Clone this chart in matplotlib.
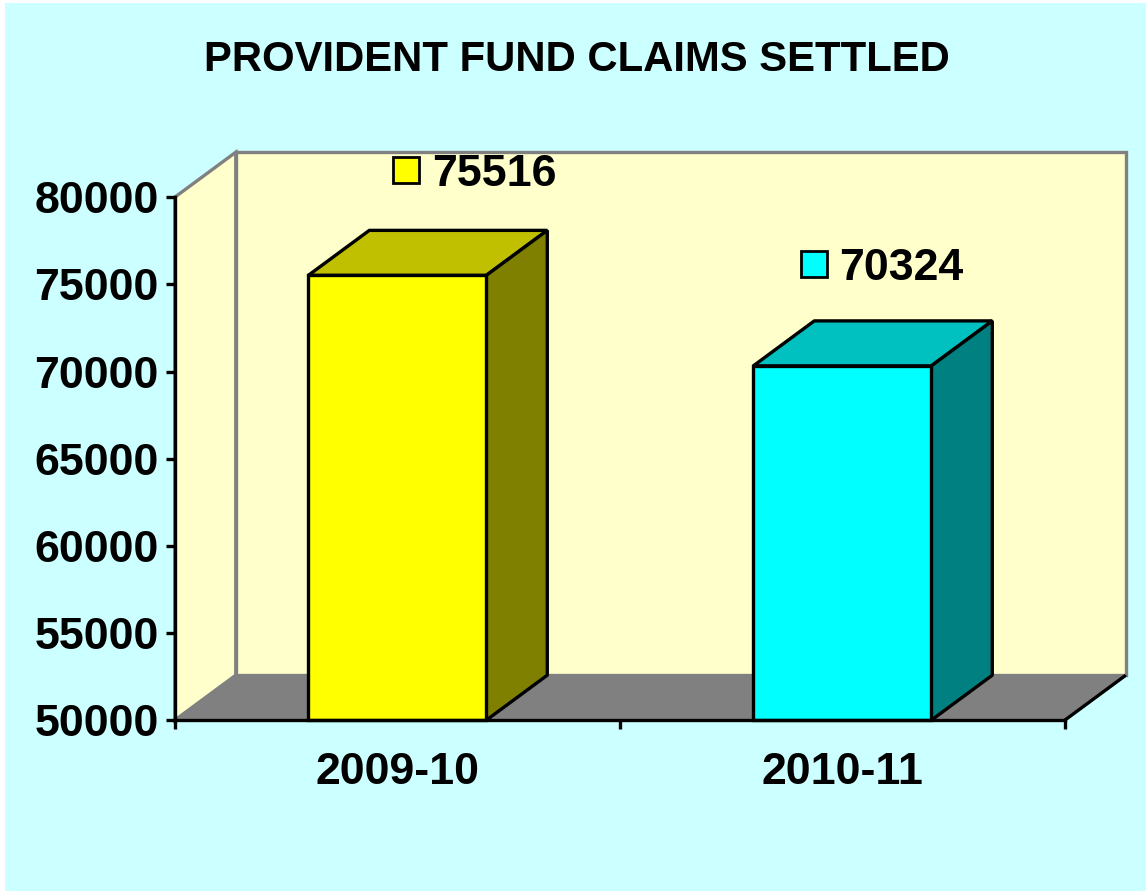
import matplotlib
matplotlib.use('Agg')
import matplotlib.pyplot as plt
from matplotlib.patches import Polygon, Rectangle

plt.rcParams['font.family'] = ['Liberation Sans', 'DejaVu Sans']

# Chart data
years = ['2009-10', '2010-11']
claims = [75516, 70324]
y_ticks = [50000, 55000, 60000, 65000, 70000, 75000, 80000]

W, H = 1146, 891
BLACK = '#000000'
GRAY = '#808080'
WALL = '#FFFFCC'
front_colors = ['#FFFF00', '#00FFFF']
top_colors = ['#C0C000', '#00C0C0']
side_colors = ['#808000', '#008080']
LW = 2.4
LABEL_SIZE = 32.2

fig = plt.figure(figsize=(W / 100, H / 100), dpi=100, facecolor='white')
# Cyan background, the picture has a thin white edge left and top
fig.patches.append(Rectangle((5 / W, 0), 1 - 5 / W, 1 - 3 / H, transform=fig.transFigure,
                             facecolor='#CCFFFF', edgecolor='none', zorder=-1))

# Plot area in pixels
left, right, top, bottom = 174.8, 1064.8, 197.2, 720.2
ax = fig.add_axes([left / W, 1 - bottom / H, (right - left) / W, (bottom - top) / H])
ax.set_xlim(0, 2)
ax.set_ylim(50000, 80000)
ax.patch.set_alpha(0)

# Helpers to turn pixel offsets into data units
px_x = 2 / (right - left)
px_y = 30000 / (bottom - top)
depth_x = 61 * px_x
depth_y = 45 * px_y
y0, y1 = 50000, 80000

# Walls and floor
ax.add_patch(Polygon([(0, y0), (depth_x, y0 + depth_y), (depth_x, y1 + depth_y), (0, y1)],
                     facecolor=WALL, edgecolor=GRAY, lw=LW, clip_on=False, zorder=1))
ax.add_patch(Rectangle((depth_x, y0 + depth_y), 2, y1 - y0, facecolor=WALL, edgecolor=GRAY,
                       lw=LW, clip_on=False, zorder=1))
ax.add_patch(Polygon([(0, y0), (2, y0), (2 + depth_x, y0 + depth_y), (depth_x, y0 + depth_y)],
                     facecolor=GRAY, edgecolor=GRAY, lw=1.5, clip_on=False, zorder=1.5))
ax.plot([2, 2 + depth_x], [y0, y0 + depth_y], color=BLACK, lw=LW, clip_on=False, zorder=1.6,
        solid_capstyle='butt')

# Bars
bar_w = 178 * px_x
centers = [0.5, 1.5]
for c, v, fc, tc, sc in zip(centers, claims, front_colors, top_colors, side_colors):
    l, r = c - bar_w / 2, c + bar_w / 2
    ax.add_patch(Polygon([(l, v), (r, v), (r + depth_x, v + depth_y), (l + depth_x, v + depth_y)],
                         facecolor=tc, edgecolor=BLACK, lw=LW, joinstyle='bevel', clip_on=False, zorder=3))
    ax.add_patch(Polygon([(r, y0), (r + depth_x, y0 + depth_y), (r + depth_x, v + depth_y), (r, v)],
                         facecolor=sc, edgecolor=BLACK, lw=LW, joinstyle='bevel', clip_on=False, zorder=3))
    ax.bar(c, v - y0, bottom=y0, width=bar_w, color=fc, edgecolor=BLACK, lw=LW, zorder=3.1, clip_on=False)

# Value labels with their little key squares
key_dx = [9.0, -28.5]
key_dy = [105.5, 102]
text_dx = [34.6, -3.6]
for c, v, fc, kx, ky, tx in zip(centers, claims, front_colors, key_dx, key_dy, text_dx):
    ax.plot([c + kx * px_x], [v + ky * px_y], marker='s', ms=18.5, mfc=fc, mec=BLACK, mew=2.0,
            clip_on=False, zorder=4, linestyle='none')
    ax.text(c + tx * px_x, v + ky * px_y, str(v), fontsize=LABEL_SIZE, fontweight='bold', color=BLACK,
            ha='left', va='center_baseline', zorder=4, clip_on=False)

# Axes
for s in ['top', 'right']:
    ax.spines[s].set_visible(False)
for s in ['left', 'bottom']:
    ax.spines[s].set_linewidth(LW)
    ax.spines[s].set_color(BLACK)
    ax.spines[s].set_zorder(3.5)
ax.set_yticks(y_ticks)
ax.set_yticklabels([str(t) for t in y_ticks], fontsize=LABEL_SIZE, fontweight='bold')
ax.tick_params(axis='y', length=6.5, width=LW, pad=5)
ax.set_xticks([0, 1, 2])
ax.set_xticklabels([])
ax.tick_params(axis='x', which='major', length=6.5, width=LW)
ax.set_xticks(centers, minor=True)
ax.set_xticklabels(years, minor=True, fontsize=LABEL_SIZE, fontweight='bold')
ax.tick_params(axis='x', which='minor', length=0, pad=23)

fig.text(577 / W, 1 - 60 / H, 'PROVIDENT FUND CLAIMS SETTLED', fontsize=30.2, fontweight='bold',
         color=BLACK, ha='center', va='center')

fig.savefig('out.png', dpi=100)
